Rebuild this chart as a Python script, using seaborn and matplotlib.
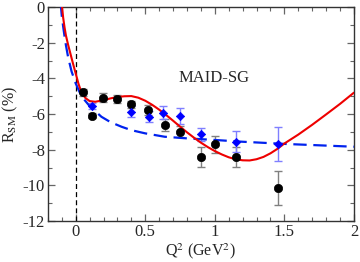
import numpy as np
import pandas as pd
import matplotlib
matplotlib.use("Agg")
import matplotlib.pyplot as plt
import seaborn as sns
from matplotlib.ticker import MultipleLocator

# model curves
red_x = [-0.098, -0.09, -0.08, -0.07, -0.055, -0.04, -0.02, 0.0, 0.02, 0.04, 0.07, 0.1,
         0.14, 0.2, 0.25, 0.3, 0.35, 0.4, 0.45, 0.5, 0.55, 0.6, 0.65, 0.7, 0.75, 0.8,
         0.85, 0.9, 0.95, 1.0, 1.05, 1.1, 1.15, 1.2, 1.25, 1.3, 1.35, 1.4, 1.45, 1.5,
         1.6, 1.7, 1.8, 1.9, 2.0]
red_y = [0.0, -0.6, -1.15, -1.6, -2.1, -2.55, -3.15, -3.72, -4.3, -4.75, -5.1, -5.27,
         -5.31, -5.22, -5.12, -5.04, -5.0, -4.99, -5.08, -5.25, -5.48, -5.75, -6.05,
         -6.37, -6.7, -7.02, -7.32, -7.6, -7.85, -8.07, -8.26, -8.42, -8.53, -8.59,
         -8.6, -8.53, -8.4, -8.2, -7.95, -7.65, -7.15, -6.6, -6.02, -5.43, -4.8]

blue_x = [-0.108, -0.1, -0.09, -0.08, -0.07, -0.055, -0.03, 0.0, 0.03, 0.065, 0.1,
          0.185, 0.25, 0.33, 0.4, 0.5, 0.64, 0.8, 1.0, 1.2, 1.5, 1.75, 2.0]
blue_y = [0.2, -0.5, -1.1, -1.65, -2.15, -2.79, -3.6, -4.28, -4.8, -5.22, -5.55,
          -6.15, -6.45, -6.71, -6.9, -7.08, -7.27, -7.36, -7.45, -7.55, -7.67,
          -7.75, -7.83]

# data sets
black_q2 = [0.053, 0.12, 0.197, 0.3, 0.395, 0.52, 0.645, 0.75, 0.9, 1.0, 1.15, 1.455]
black_r = [-4.78, -6.08, -5.07, -5.17, -5.45, -5.77, -6.6, -6.98, -8.4, -7.7, -8.4, -10.15]
black_err = [0.2, 0.12, 0.25, 0.22, 0.2, 0.27, 0.35, 0.3, 0.55, 0.5, 0.55, 0.97]

blue_q2 = [0.12, 0.4, 0.525, 0.63, 0.75, 0.9, 1.15, 1.455]
blue_r = [-5.55, -5.87, -6.15, -5.92, -6.1, -7.14, -7.55, -7.66]
blue_err = [0.15, 0.3, 0.3, 0.35, 0.47, 0.38, 0.6, 0.95]

sns.set_theme(style="ticks")
plt.rcParams["font.family"] = ["Liberation Serif", "DejaVu Serif"]
plt.rcParams["mathtext.fontset"] = "stix"
plt.rcParams["axes.unicode_minus"] = False

fig = plt.figure(figsize=(3.6, 2.62), dpi=100)
ax = fig.add_axes([0.133, 0.156, 0.85, 0.817])

ax.axvline(0, color="black", lw=0.9, ls=(0, (4, 2.5)), zorder=1)

ax.errorbar(black_q2, black_r, yerr=black_err, fmt="none", ecolor="#808080",
            elinewidth=1.0, capsize=3, capthick=1.0, zorder=2)
ax.errorbar(blue_q2, blue_r, yerr=blue_err, fmt="none", ecolor="#7f7fff",
            elinewidth=1.0, capsize=3, capthick=1.0, zorder=2)

sns.lineplot(x=blue_x, y=blue_y, ax=ax, color="#0022ee", lw=1.6,
             linestyle=(0, (6, 3)), sort=False, zorder=3)
sns.lineplot(x=red_x, y=red_y, ax=ax, color="#ee0000", lw=1.5, sort=False, zorder=4)

sns.scatterplot(x=black_q2, y=black_r, ax=ax, color="black", s=36, marker="o",
                edgecolor="black", linewidth=0.5, zorder=5)
sns.scatterplot(x=blue_q2, y=blue_r, ax=ax, color="#0000ff", s=18, marker="D",
                edgecolor="#0000ff", linewidth=0.5, zorder=5)

ax.text(0.74, -3.95, "MAID-SG", fontsize=12, va="center", ha="left")

ax.set_xlim(-0.2, 2.0)
ax.set_ylim(-12, 0)
ax.xaxis.set_major_locator(MultipleLocator(0.5))
ax.xaxis.set_minor_locator(MultipleLocator(0.1))
ax.yaxis.set_major_locator(MultipleLocator(2))
ax.yaxis.set_minor_locator(MultipleLocator(1))
ax.set_xticks([0, 0.5, 1, 1.5, 2])
ax.set_xticklabels(["0", "0.5", "1", "1.5", "2"])
ax.tick_params(which="both", direction="in", top=True, right=True,
               color="#666666", labelsize=12, pad=2)
ax.tick_params(which="major", length=5, width=0.9)
ax.tick_params(which="minor", length=3, width=0.8)
for s in ax.spines.values():
    s.set_color("#333333")
    s.set_linewidth(1.0)

ax.set_xlabel(r"Q$^2$ (GeV$^2$)", fontsize=11.5, labelpad=1)
ax.set_ylabel(r"R$_{\rm SM}$ (%)", fontsize=11.5)
ax.yaxis.set_label_coords(-0.092, 0.5)

fig.savefig("out.png", dpi=100)
